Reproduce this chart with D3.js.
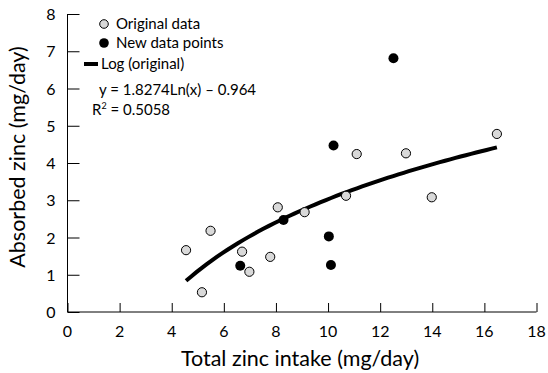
<!DOCTYPE html>
<html>
<head>
<meta charset="utf-8">
<script src="https://cdn.jsdelivr.net/npm/d3@7"></script>
<style>
body{margin:0;background:#fff;}
text{font-family:Lato,"Open Sans",sans-serif;fill:#000;}
</style>
</head>
<body>
<svg id="chart" width="548" height="373"></svg>
<script>
var origX = [4.55, 5.16, 5.49, 6.70, 6.98, 7.78, 8.07, 9.10, 10.69, 11.10, 12.99, 13.98, 16.48];
var origY = [1.66, 0.53, 2.18, 1.62, 1.08, 1.48, 2.81, 2.68, 3.12, 4.24, 4.26, 3.08, 4.78];
var newX = [6.63, 8.29, 10.03, 10.11, 10.21, 12.51];
var newY = [1.24, 2.47, 2.03, 1.26, 4.47, 6.81];
var xTicks = [0, 2, 4, 6, 8, 10, 12, 14, 16, 18];
var yTicks = [0, 1, 2, 3, 4, 5, 6, 7, 8];
var legendLabels = ["Original data", "New data points", "Log (original)"];
var eqText = "y = 1.8274Ln(x) \u2013 0.964";
var r2Text = "R";

var svg = d3.select("#chart");
var x = d3.scaleLinear().domain([0, 18]).range([67.5, 536.5]);
var y = d3.scaleLinear().domain([0, 8]).range([312, 14]);

// axes, ticks pointing inward
svg.append("g").attr("transform", "translate(0,312)")
	.call(d3.axisTop(x).tickValues(xTicks).tickSize(9).tickFormat(""))
	.call(function(g){ g.select(".domain").remove(); });
svg.append("line").attr("x1", x(0)).attr("x2", x(18)).attr("y1", 312).attr("y2", 312).attr("stroke", "#000");
svg.append("g").attr("transform", "translate(" + x(0) + ",0)")
	.call(d3.axisRight(y).tickValues(yTicks).tickSize(12).tickFormat(""))
	.call(function(g){ g.select(".domain").remove(); });
svg.append("line").attr("x1", x(0)).attr("x2", x(0)).attr("y1", y(8)).attr("y2", 312).attr("stroke", "#000");
svg.selectAll(".tick line").attr("stroke", "#000");

svg.selectAll(".xl").data(xTicks).enter().append("text")
	.attr("x", function(d){ return x(d); }).attr("y", 336.5)
	.attr("text-anchor", "middle").style("font-size", "16px").text(function(d){ return d; });
svg.selectAll(".yl").data(yTicks).enter().append("text")
	.attr("x", 55.5).attr("y", function(d){ return y(d) + 6; })
	.attr("text-anchor", "end").style("font-size", "16px").text(function(d){ return d; });

svg.append("text").attr("x", 300).attr("y", 366).attr("text-anchor", "middle")
	.style("font-size", "21.5px").text("Total zinc intake (mg/day)");
svg.append("text").attr("transform", "translate(25,157) rotate(-90)").attr("text-anchor", "middle")
	.style("font-size", "21.5px").text("Absorbed zinc (mg/day)");

// log fit computed from the original data
var lx = origX.map(Math.log);
var mx = d3.mean(lx), my = d3.mean(origY);
var sxy = d3.sum(lx, function(v, i){ return (v - mx) * (origY[i] - my); });
var sxx = d3.sum(lx, function(v){ return (v - mx) * (v - mx); });
var a = sxy / sxx, b = my - a * mx;
var fitPts = d3.range(0, 61).map(function(i){
	var xv = d3.min(origX) + (d3.max(origX) - d3.min(origX)) * i / 60;
	return [xv, a * Math.log(xv) + b];
});
svg.append("path").datum(fitPts)
	.attr("d", d3.line().x(function(d){ return x(d[0]); }).y(function(d){ return y(d[1]); }))
	.attr("fill", "none").attr("stroke", "#000").attr("stroke-width", 4);

svg.selectAll(".orig").data(origX).enter().append("circle")
	.attr("cx", function(d){ return x(d); }).attr("cy", function(d, i){ return y(origY[i]); })
	.attr("r", 4.6).attr("fill", "#d9d9d9").attr("stroke", "#000").attr("stroke-width", 1);
svg.selectAll(".new").data(newX).enter().append("circle")
	.attr("cx", function(d){ return x(d); }).attr("cy", function(d, i){ return y(newY[i]); })
	.attr("r", 5).attr("fill", "#000");

// legend
svg.append("circle").attr("cx", 104).attr("cy", 24).attr("r", 4.3).attr("fill", "#d9d9d9").attr("stroke", "#000");
svg.append("circle").attr("cx", 104).attr("cy", 43).attr("r", 4.8).attr("fill", "#000");
svg.append("line").attr("x1", 84).attr("x2", 98).attr("y1", 64).attr("y2", 64).attr("stroke", "#000").attr("stroke-width", 4);
svg.append("text").attr("x", 116).attr("y", 29).style("font-size", "15px").text(legendLabels[0]);
svg.append("text").attr("x", 116).attr("y", 48).style("font-size", "15px").text(legendLabels[1]);
svg.append("text").attr("x", 101).attr("y", 69).style("font-size", "15px").text(legendLabels[2]);
svg.append("text").attr("x", 99).attr("y", 95).style("font-size", "15px").text(eqText);
var r2 = svg.append("text").attr("x", 92).attr("y", 115).style("font-size", "15px");
r2.append("tspan").text(r2Text);
r2.append("tspan").attr("dy", -6).style("font-size", "9px").text("2");
r2.append("tspan").attr("dy", 6).text(" = 0.5058");
</script>
</body>
</html>
